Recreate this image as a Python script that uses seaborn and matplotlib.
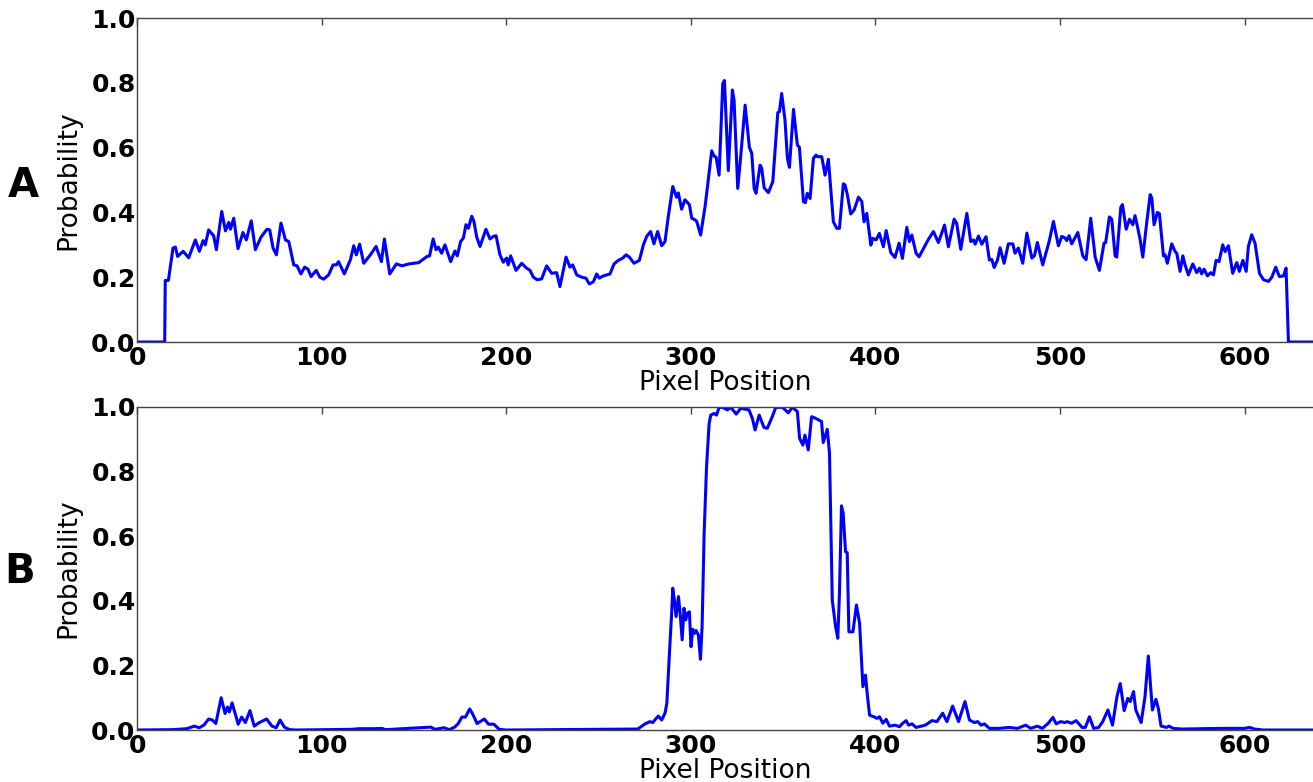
import numpy as np
import pandas as pd
import matplotlib
matplotlib.use("Agg")
import matplotlib.pyplot as plt
import seaborn as sns

# ---------------- data ----------------
pixel_a = [
    0, 15, 15.3, 17, 19.5, 20.8, 22, 25, 28, 31.6,
    33.8, 35.8, 37, 38.8, 41.5, 43, 45.9, 47.9, 49.7, 50.6,
    52.4, 54.7, 57.4, 59.2, 61.9, 64.1, 67.2, 70.4, 71.9, 73.7,
    75.5, 78, 80.4, 82.2, 84.9, 86.7, 88.8, 90.8, 92.6, 94.3,
    97.1, 99, 101.1, 103.8, 106.2, 108, 109.2, 112.3, 115.6, 117.4,
    118.8, 120.6, 122.8, 126.4, 129.5, 130.4, 132.4, 134, 136.9, 140.5,
    143.6, 147.2, 152.6, 157.1, 158.5, 160.4, 162, 163.2, 165, 166.8,
    169.9, 172.2, 173.5, 175.3, 176.8, 178.2, 179.5, 181.3, 182.5, 184,
    185.8, 189, 191.2, 193, 194.5, 196.6, 198.4, 200.2, 201.1, 202.4,
    205.3, 208.4, 211, 212.9, 214.7, 216.8, 219.2, 221.9, 224.6, 227.3,
    229.1, 232.4, 234.5, 236, 238.2, 240.9, 243.2, 245, 247.2, 249,
    250.4, 252.6, 256.2, 258.4, 260.7, 263.1, 264.9, 266.7, 269.2, 272.1,
    274.3, 276.1, 278.2, 280, 282, 284.2, 286, 287.8, 290.2, 292.3,
    293.2, 295, 296.8, 299.2, 300.5, 302.3, 303.2, 305.3, 307.7, 309,
    311.3, 312.6, 313.7, 315.3, 317.3, 318.2, 320.3, 322.5, 323.4, 325.4,
    327, 329.4, 331.7, 333, 334.3, 335.3, 337.5, 338.4, 339.7, 342,
    344.4, 347.1, 348, 349.2, 351, 352.3, 353.4, 355.6, 357.7, 358.8,
    361, 362, 363.1, 364.6, 366.4, 367.8, 368.6, 370.9, 372.7, 374.5,
    375.8, 377.2, 379, 380.5, 382.6, 383.5, 384.8, 386.6, 388.4, 390.8,
    392.6, 393.8, 395.3, 397.5, 398.5, 400.3, 402.1, 404.3, 405.8, 408.3,
    410.6, 412.8, 414.6, 417, 418.4, 419.7, 422, 423.6, 425.6, 428.7,
    431.4, 434.1, 437.4, 439.5, 442.6, 444, 446.2, 449.5, 451.6, 453.1,
    454, 455.8, 457.6, 459.9, 461.7, 463, 464.3, 466.1, 467.5, 469.7,
    472, 474.4, 475.6, 477.4, 479.8, 482, 484.7, 486.1, 487.7, 490.6,
    494.2, 496.4, 499.1, 500.9, 502.7, 503.6, 504.9, 506.3, 509.6, 512.3,
    514.1, 516.6, 519, 521.3, 523.8, 524.7, 526.7, 528, 529.8, 530.7,
    532.9, 533.8, 535.8, 537.6, 539.4, 540.6, 541.9, 543.3, 544.8, 546.9,
    548.8, 549.7, 550.9, 552.7, 553.8, 556, 556.9, 558.1, 560.5, 562.3,
    563.2, 565, 566.5, 567.7, 569.5, 571.9, 574, 575.5, 576.7, 578,
    579.8, 581.6, 583.1, 584.5, 586.1, 588.1, 589.4, 591.2, 593.5, 595.7,
    597.1, 599, 600.8, 602, 603.8, 605.6, 608, 610.2, 612.9, 614.7,
    616.8, 618.8, 621, 622.4, 623.7, 640,
]
prob_a = [
    0, 0, 0.19, 0.19, 0.29, 0.293, 0.264, 0.28, 0.26, 0.315,
    0.28, 0.313, 0.30, 0.346, 0.328, 0.285, 0.403, 0.343, 0.369, 0.348,
    0.382, 0.288, 0.338, 0.315, 0.374, 0.285, 0.324, 0.348, 0.346, 0.29,
    0.269, 0.367, 0.315, 0.31, 0.238, 0.235, 0.21, 0.231, 0.225, 0.202,
    0.221, 0.2, 0.194, 0.207, 0.238, 0.238, 0.248, 0.21, 0.254, 0.297,
    0.269, 0.302, 0.243, 0.269, 0.295, 0.28, 0.248, 0.318, 0.21, 0.241,
    0.235, 0.241, 0.245, 0.264, 0.266, 0.318, 0.285, 0.293, 0.274, 0.30,
    0.248, 0.281, 0.266, 0.31, 0.321, 0.362, 0.351, 0.388, 0.372, 0.324,
    0.295, 0.348, 0.318, 0.326, 0.328, 0.269, 0.246, 0.259, 0.238, 0.266,
    0.221, 0.243, 0.228, 0.221, 0.2, 0.192, 0.195, 0.235, 0.212, 0.214,
    0.171, 0.262, 0.231, 0.238, 0.207, 0.2, 0.197, 0.179, 0.186, 0.21,
    0.197, 0.204, 0.21, 0.241, 0.252, 0.259, 0.269, 0.262, 0.243, 0.252,
    0.30, 0.326, 0.341, 0.303, 0.341, 0.297, 0.31, 0.388, 0.48, 0.447,
    0.46, 0.41, 0.439, 0.424, 0.382, 0.377, 0.372, 0.33, 0.418, 0.479,
    0.59, 0.574, 0.57, 0.515, 0.798, 0.807, 0.529, 0.778, 0.747, 0.474,
    0.572, 0.731, 0.601, 0.582, 0.474, 0.459, 0.546, 0.536, 0.476, 0.461,
    0.495, 0.708, 0.711, 0.767, 0.685, 0.567, 0.539, 0.718, 0.608, 0.601,
    0.433, 0.43, 0.459, 0.443, 0.567, 0.577, 0.572, 0.572, 0.515, 0.564,
    0.469, 0.371, 0.351, 0.351, 0.488, 0.485, 0.454, 0.395, 0.407, 0.447,
    0.434, 0.371, 0.397, 0.299, 0.32, 0.315, 0.335, 0.294, 0.344, 0.276,
    0.261, 0.305, 0.258, 0.354, 0.31, 0.33, 0.274, 0.263, 0.284, 0.317,
    0.341, 0.307, 0.361, 0.294, 0.379, 0.366, 0.286, 0.397, 0.31, 0.315,
    0.302, 0.327, 0.302, 0.325, 0.253, 0.255, 0.23, 0.253, 0.291, 0.243,
    0.303, 0.303, 0.274, 0.29, 0.243, 0.336, 0.259, 0.266, 0.307, 0.238,
    0.313, 0.372, 0.297, 0.326, 0.321, 0.313, 0.328, 0.303, 0.338, 0.266,
    0.254, 0.382, 0.262, 0.221, 0.305, 0.307, 0.386, 0.379, 0.266, 0.262,
    0.416, 0.424, 0.348, 0.379, 0.362, 0.39, 0.357, 0.318, 0.262, 0.367,
    0.455, 0.444, 0.362, 0.40, 0.396, 0.266, 0.269, 0.243, 0.303, 0.279,
    0.274, 0.218, 0.266, 0.238, 0.207, 0.241, 0.214, 0.228, 0.21, 0.225,
    0.204, 0.214, 0.207, 0.252, 0.248, 0.30, 0.279, 0.297, 0.212, 0.245,
    0.218, 0.252, 0.218, 0.295, 0.331, 0.305, 0.212, 0.192, 0.187, 0.20,
    0.231, 0.202, 0.204, 0.228, 0.0, 0.0,
]

pixel_b = [
    0, 19, 27, 31, 33.7, 36.2, 38.8, 40.8, 42.7, 45.6,
    47.7, 49, 50, 51.5, 52.9, 54.8, 56.7, 58.7, 61.2, 63.5,
    66.3, 70.2, 73.1, 75.4, 77.5, 79.8, 82.7, 86, 116.3, 120.2,
    127.9, 132.7, 134.6, 159.2, 161.5, 166.3, 169.2, 172.1, 174, 176,
    177.9, 180.2, 181.7, 184.2, 188.1, 190.4, 193.3, 196.2, 200, 271.2,
    272.5, 275.2, 277.9, 279.4, 281.2, 282.4, 284.2, 286, 287, 288.4,
    289.7, 290.2, 291.1, 292, 293.3, 294.2, 295.3, 296.3, 297.2, 298.1,
    299.2, 300.1, 301, 302, 302.8, 304.1, 305.2, 306.1, 307.2, 308.5,
    309.9, 310.8, 312.6, 313.9, 315.3, 317.1, 319.8, 321.6, 324.6, 327,
    331.5, 333.3, 334.8, 337, 339.6, 341.4, 344.1, 346, 349.6, 352.8,
    355, 357.7, 358.9, 360.7, 361.8, 363.6, 365.4, 367.6, 370.8, 371.7,
    373.9, 375.1, 376.6, 378.4, 379.6, 380.5, 381.6, 382.5, 383.8, 384.7,
    385.6, 387.8, 389.7, 391.4, 393.2, 394.6, 395.5, 396.8, 399.1, 400.9,
    402.2, 404, 405.8, 407.6, 410.8, 413, 414.4, 416.6, 418, 419.8,
    422, 427, 430.6, 433.3, 436.4, 438.7, 441.8, 445, 448.5, 450.9,
    453.6, 455.4, 457.2, 459, 461.7, 467, 472.4, 476.9, 481.4, 484.1,
    487.7, 490.4, 493.6, 496.1, 497.9, 500.3, 502.6, 503.8, 506.2, 508.7,
    511.9, 513.7, 515.9, 518.2, 520.9, 523.1, 525.9, 528.4, 530.8, 532.6,
    534.7, 536.7, 538, 539.8, 541, 543.9, 546, 547.8, 550, 551.9,
    553.2, 554.7, 557.7, 559, 561.3, 565.8, 587.3, 599.9, 602.6, 605.3,
    610, 640,
]
prob_b = [
    0, 0.001, 0.004, 0.012, 0.007, 0.015, 0.034, 0.031, 0.02, 0.1,
    0.051, 0.071, 0.056, 0.084, 0.056, 0.018, 0.04, 0.023, 0.06, 0.012,
    0.023, 0.034, 0.012, 0.007, 0.031, 0.009, 0.001, 0, 0.002, 0.004,
    0.004, 0.005, 0.001, 0.009, 0.002, 0.007, 0.001, 0.009, 0.02, 0.04,
    0.04, 0.065, 0.051, 0.02, 0.034, 0.018, 0.018, 0.002, 0, 0.003,
    0.008, 0.019, 0.026, 0.023, 0.036, 0.043, 0.031, 0.052, 0.083, 0.237,
    0.372, 0.439, 0.402, 0.351, 0.413, 0.361, 0.279, 0.377, 0.341, 0.361,
    0.366, 0.258, 0.312, 0.299, 0.308, 0.294, 0.219, 0.32, 0.609, 0.815,
    0.949, 0.975, 0.98, 0.975, 0.999, 0.999, 0.991, 0.999, 0.978, 0.996,
    0.991, 0.965, 0.929, 0.975, 0.937, 0.934, 0.97, 0.999, 0.999, 0.982,
    0.999, 0.986, 0.903, 0.882, 0.913, 0.867, 0.97, 0.965, 0.955, 0.89,
    0.931, 0.857, 0.402, 0.32, 0.284, 0.423, 0.694, 0.671, 0.552, 0.549,
    0.304, 0.304, 0.387, 0.33, 0.134, 0.17, 0.114, 0.046, 0.041, 0.036,
    0.041, 0.021, 0.033, 0.012, 0.015, 0.01, 0.019, 0.029, 0.015, 0.019,
    0.008, 0.015, 0.029, 0.026, 0.052, 0.026, 0.074, 0.026, 0.088, 0.031,
    0.023, 0.026, 0.015, 0.019, 0.005, 0.005, 0.008, 0.005, 0.015, 0.005,
    0.012, 0.005, 0.021, 0.039, 0.019, 0.026, 0.023, 0.026, 0.021, 0.029,
    0.008, 0.008, 0.041, 0.005, 0.008, 0.026, 0.062, 0.015, 0.103, 0.144,
    0.06, 0.098, 0.088, 0.119, 0.062, 0.023, 0.103, 0.229, 0.062, 0.095,
    0.067, 0.012, 0.008, 0.012, 0.005, 0.003, 0.005, 0.005, 0.008, 0.003,
    0, 0,
]

panel_labels = ["A", "B"]
x_ticks = [0, 100, 200, 300, 400, 500, 600]
y_ticks = [0.0, 0.2, 0.4, 0.6, 0.8, 1.0]
x_label = "Pixel Position"
y_label = "Probability"

assert len(pixel_a) == len(prob_a)
assert len(pixel_b) == len(prob_b)

# ---------------- figure ----------------
sns.set_theme(style="white")
plt.rcParams["font.family"] = ["DejaVu Sans"]
plt.rcParams["text.color"] = "black"
plt.rcParams["axes.labelcolor"] = "black"
plt.rcParams["xtick.color"] = "black"
plt.rcParams["ytick.color"] = "black"

W, H = 1313, 782
fig = plt.figure(figsize=(W / 100, H / 100), dpi=100)
left = 137 / W
axA = fig.add_axes([left, 1 - 342 / H, 1 - left, 324 / H])
axB = fig.add_axes([left, 1 - 730 / H, 1 - left, 323 / H])

frames = [
    pd.DataFrame({"pixel": pixel_a, "prob": prob_a}),
    pd.DataFrame({"pixel": pixel_b, "prob": prob_b}),
]

for ax, df in zip([axA, axB], frames):
    sns.lineplot(data=df, x="pixel", y="prob", ax=ax, color="#0000ff",
                 linewidth=2.2, estimator=None, sort=False)
    ax.set_xlim(0, 637)
    ax.set_ylim(0, 1)
    ax.set_xticks(x_ticks)
    ax.set_yticks(y_ticks)
    ax.set_xticklabels([str(t) for t in x_ticks], fontsize=18,
                       fontweight="bold", color="black")
    ax.set_yticklabels([f"{t:.1f}" for t in y_ticks], fontsize=18,
                       fontweight="bold", color="black")
    ax.tick_params(axis="both", direction="in", length=5, width=1,
                   color="#444444", top=True, right=False)
    ax.tick_params(axis="x", pad=3)
    ax.tick_params(axis="y", pad=1)
    ax.set_xlabel(x_label, fontsize=19, labelpad=0, color="black")
    ax.set_ylabel(y_label, fontsize=19, labelpad=7, color="black")
    for side in ["left", "top", "bottom"]:
        ax.spines[side].set_color("#444444")
        ax.spines[side].set_linewidth(1)
    ax.spines["right"].set_visible(False)
    ax.grid(False)

fig.text(23 / W, 1 - 197 / H, panel_labels[0], fontsize=29, fontweight="bold",
         ha="center", va="baseline", color="black")
fig.text(20 / W, 1 - 583 / H, panel_labels[1], fontsize=29, fontweight="bold",
         ha="center", va="baseline", color="black")

fig.savefig("out.png", dpi=100)
